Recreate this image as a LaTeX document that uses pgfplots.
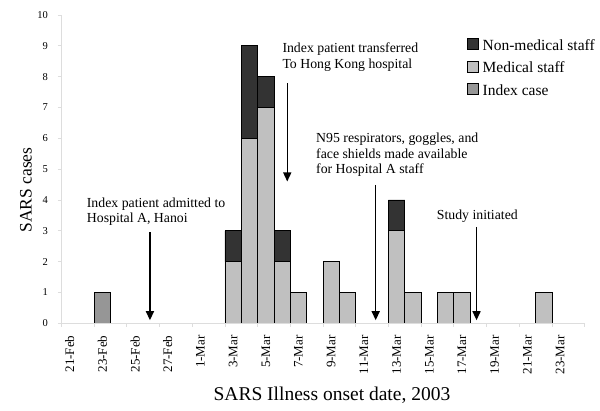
\documentclass[border=0pt]{standalone}
\usepackage{fontspec}
\setmainfont{Liberation Serif}
\usepackage{pgfplots}
\pgfplotsset{compat=1.18}
\usepackage{pgfplotstable}
\usetikzlibrary{arrows.meta}
\definecolor{nonmed}{HTML}{333333}
\definecolor{med}{HTML}{C0C0C0}
\definecolor{idx}{HTML}{969696}
\definecolor{axgray}{HTML}{DDDDDD}
\newcommand\ann{\fontsize{13.8bp}{15.5bp}\selectfont}
\pgfplotstableread{
x idx med non
0 0 0 0
1 0 0 0
2 1 0 0
3 0 0 0
4 0 0 0
5 0 0 0
6 0 0 0
7 0 0 0
8 0 0 0
9 0 0 0
10 0 2 1
11 0 6 3
12 0 7 1
13 0 2 1
14 0 1 0
15 0 0 0
16 0 2 0
17 0 1 0
18 0 0 0
19 0 0 0
20 0 3 1
21 0 1 0
22 0 0 0
23 0 1 0
24 0 1 0
25 0 0 0
26 0 0 0
27 0 0 0
28 0 0 0
29 0 1 0
30 0 0 0
31 0 0 0
}\sars
\begin{document}
\begin{tikzpicture}
\useasboundingbox (-61.5bp,-87.7bp) rectangle (538.5bp,323.3bp);
\begin{axis}[
  at={(0,0)}, anchor=south west,
  scale only axis, width=523.1bp, height=308.3bp,
  xmin=-0.5, xmax=31.5, ymin=0, ymax=10,
  ybar stacked, bar width=1,
  axis lines*=left,
  axis line style={axgray, line width=1bp},
  axis on top,
  tick align=outside,
  tick style={axgray, line width=0.8bp},
  major tick length=3.5bp,
  ytick={0,...,10},
  xtick={-0.5,1.5,...,31.5},
  xticklabels={},
  extra x ticks={0,2,...,30},
  extra x tick labels={21-Feb,23-Feb,25-Feb,27-Feb,1-Mar,3-Mar,5-Mar,7-Mar,9-Mar,11-Mar,13-Mar,15-Mar,17-Mar,19-Mar,21-Mar,23-Mar},
  extra x tick style={major tick length=0pt},
  /pgf/number format/assume math mode=true,
  yticklabel style={font=\fontsize{10.5bp}{12bp}\selectfont, anchor=east, inner sep=0pt, xshift=-10bp},
  xticklabel style={font=\fontsize{13bp}{15bp}\selectfont, yshift=-12bp, rotate=90, anchor=east, inner sep=0pt},
  xlabel={SARS Illness onset date, 2003},
  ylabel={SARS cases},
  every axis x label/.style={at={(axis description cs:0.517,0)}, anchor=base, yshift=-76.7bp, font=\fontsize{19.5bp}{22bp}\selectfont},
  every axis y label/.style={at={([xshift=-35.5bp]axis description cs:0,0.432)}, rotate=90, anchor=center, font=\fontsize{17.5bp}{20bp}\selectfont},
  reverse legend,
  legend cell align=left,
  legend style={at={(0.7746,0.9254)}, anchor=north west, draw=none, fill=none, inner sep=0pt,
    font=\fontsize{15.5bp}{18bp}\selectfont, column sep=4bp, row sep=0pt,
    nodes={inner sep=0pt, text height=12bp, text depth=10.5bp}},
  legend image code/.code={\draw[#1, draw=black, line width=0.75bp] (0bp,-0.4bp) rectangle (11bp,10.6bp);},
]
\addplot[fill=idx, draw=black, line width=0.75bp] table[x=x, y=idx] {\sars};
\addplot[fill=med, draw=black, line width=0.75bp] table[x=x, y=med] {\sars};
\addplot[fill=nonmed, draw=black, line width=0.75bp] table[x=x, y=non] {\sars};
\legend{Index case, Medical staff, Non-medical staff}
\draw[-{Triangle[width=8bp,length=9bp]}, line width=1.4bp] (axis cs:4.91,2.95) -- (axis cs:4.91,0.1);
\draw[-{Triangle[width=8bp,length=9bp]}, line width=1.4bp] (axis cs:13.31,7.78) -- (axis cs:13.31,4.6);
\draw[-{Triangle[width=8bp,length=9bp]}, line width=1.4bp] (axis cs:18.72,4.49) -- (axis cs:18.72,0.1);
\draw[-{Triangle[width=8bp,length=9bp]}, line width=1.4bp] (axis cs:24.89,3.13) -- (axis cs:24.89,0.1);
\end{axis}
\node[anchor=base west, inner sep=0pt, font=\ann] at (25.2bp,115.6bp) {Index patient admitted to};
\node[anchor=base west, inner sep=0pt, font=\ann] at (25.2bp,100.3bp) {Hospital A, Hanoi};
\node[anchor=base west, inner sep=0pt, font=\ann] at (220.8bp,270.6bp) {Index patient transferred};
\node[anchor=base west, inner sep=0pt, font=\ann] at (220.8bp,255.0bp) {To Hong Kong hospital};
\node[anchor=base west, inner sep=0pt, font=\ann] at (254.5bp,181.0bp) {N95 respirators, goggles, and};
\node[anchor=base west, inner sep=0pt, font=\ann] at (254.5bp,165.0bp) {face shields made available};
\node[anchor=base west, inner sep=0pt, font=\ann] at (254.5bp,149.3bp) {for Hospital A staff};
\node[anchor=base west, inner sep=0pt, font=\ann] at (375.2bp,104.0bp) {Study initiated};
\end{tikzpicture}
\end{document}
